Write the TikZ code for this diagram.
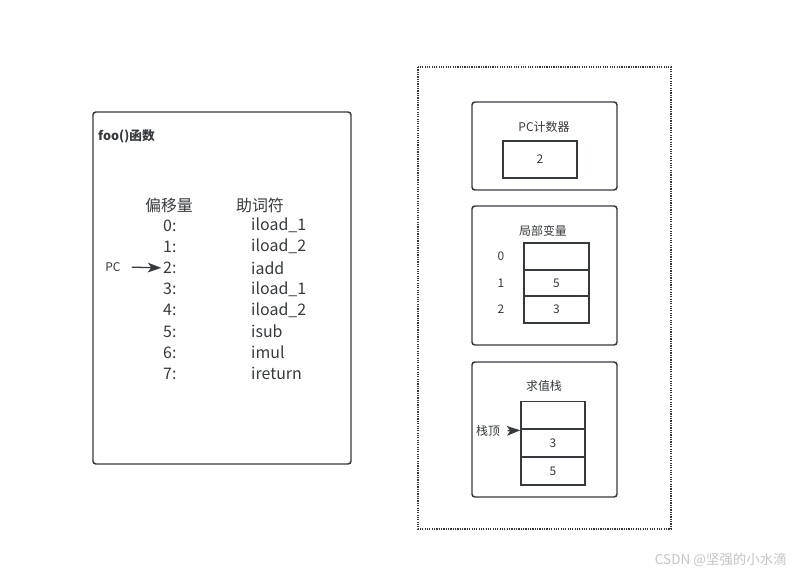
\documentclass[tikz,border=0pt]{standalone}
\usepackage{fontspec}
\setmainfont{Noto Sans CJK SC}
\usetikzlibrary{arrows.meta,positioning}
\definecolor{ink}{HTML}{36393D}
\definecolor{faint}{HTML}{C4C4C4}
\tikzset{every node/.style={font=\fontsize{10.2}{12}\selectfont,text=ink},
 frame/.style={draw=ink,line width=1.25pt,rounded corners=2.5pt},
 big/.style={font=\fontsize{13.6}{16}\selectfont,inner sep=0pt},
 cell/.style={draw=ink,line width=1.25pt,minimum width=1.95cm,minimum height=.8cm,inner sep=0pt},
 link/.style={-{Stealth[length=4mm,width=2.9mm,inset=1mm]},draw=ink,line width=1.1pt}}

\begin{document}
\begin{tikzpicture}[x=.03cm,y=-.03cm]

\useasboundingbox (0,0) rectangle (804,576);
\draw[frame] (93,112) rectangle (351,464);
\node[anchor=west,inner sep=0pt,font=\bfseries\fontsize{10.8}{12}\selectfont] (fname) at (98,136) {foo()函数};
\node[big] (hoff) at (169,205) {偏移量};
\node[big] (hop) at (260,205) {助词符};
\foreach \m [count=\i from 0] in {iload\_1,iload\_2,iadd,iload\_1,iload\_2,isub,imul,ireturn}{
 \node[big,anchor=west] (off\i) at (163,{225.5+21.2*\i}) {\i:};
 \node[big,anchor=west] (op\i) at (251,{225.5+21.2*\i}) {\m};
}
\node (pc) at (113,267) {PC};
\draw[link,shorten <=6pt,shorten >=1.5pt] (pc.east)--(off2.west);

\draw[draw=ink,line width=.9pt,dash pattern=on 1pt off 1pt] (418,67) rectangle (671,529);

\draw[frame] (472,102) rectangle (617,190);
\node (tpc) at (544,127) {PC计数器};
\node[cell,minimum width=2.22cm,minimum height=1.11cm] (pcval) at (540,159.5) {2};

\draw[frame] (472,206) rectangle (617,345);
\node (tloc) at (543,231) {局部变量};
\foreach \v/\y [count=\i from 0] in {/256.5,5/283,3/309.5}{
 \node[cell] (loc\i) at (556.5,\y) {\v};
 \node (idx\i) at (501,\y) {\i};
}

\draw[frame] (472,362) rectangle (617,497);
\node (tstk) at (544,386) {求值栈};
\foreach \v/\y [count=\i from 0] in {/415.5,3/443,5/471}{
 \node[cell,minimum width=1.92cm,minimum height=.84cm] (stk\i) at (553,\y) {\v};
}
\node (top) at (488,431) {栈顶};
\draw[link,shorten <=3pt] (top.east)--(stk0.south west);

\node[text=faint,anchor=east,font=\fontsize{11.5}{13}\selectfont] (wm) at (791,560) {CSDN @坚强的小水滴};

\end{tikzpicture}
\end{document}
